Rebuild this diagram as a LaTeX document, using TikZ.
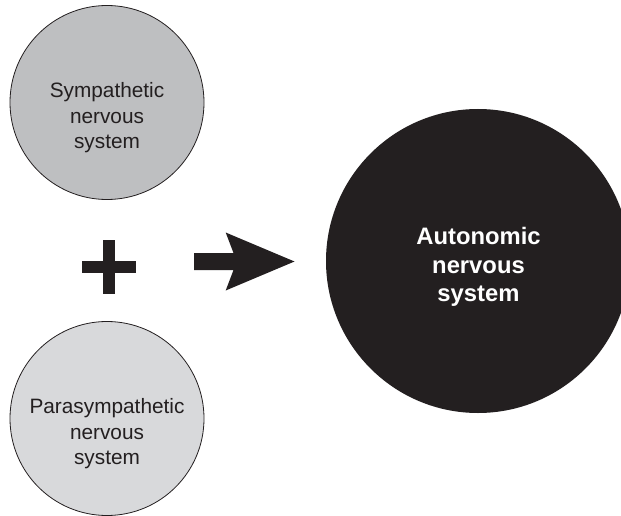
\documentclass[tikz,border=0pt]{standalone}
\usepackage{fontspec}
\setmainfont{Liberation Sans}
\definecolor{ink}{HTML}{231F20}
\definecolor{sympfill}{HTML}{BEBFC1}
\definecolor{parafill}{HTML}{D8D9DB}
\begin{document}
\begin{tikzpicture}[x=1pt,y=-1pt,
  smallcircle/.style={circle, draw=ink, line width=0.8pt, minimum size=194pt, inner sep=0pt},
  bigcircle/.style={circle, fill=ink, minimum size=304pt, inner sep=0pt},
  smalltext/.style={align=center, text=ink, inner sep=0pt,
    font=\fontsize{20.8}{25.5}\selectfont},
  bigtext/.style={align=center, text=white, inner sep=0pt,
    font=\fontsize{23.8}{28.5}\selectfont\bfseries},
  glyph/.style={fill=ink, draw=none}]
\useasboundingbox (0,0) rectangle (621,516);
\clip (0,0) rectangle (621,516);

% the two divisions and the whole
\node[smallcircle, fill=sympfill] (symp) at (107,102.5) {};
\node[smallcircle, fill=parafill] (para) at (107,418.5) {};
\node[bigcircle] (ans) at (478,261) {};

% labels
\node[smalltext] (symplabel) at (107,118) {Sympathetic\\nervous\\system};
\node[smalltext] (paralabel) at (107,434) {Parasympathetic\\nervous\\system};
\node[bigtext] (anslabel) at (478.5,267) {Autonomic\\nervous\\system};

% plus sign
\coordinate (plus) at (109.2,266.5);
\fill[glyph] ([xshift=-27pt,yshift=-6pt]plus) rectangle ([xshift=27pt,yshift=6pt]plus);
\fill[glyph] ([xshift=-6pt,yshift=-27pt]plus) rectangle ([xshift=6pt,yshift=27pt]plus);

% block arrow
\fill[glyph] (194,253) -- (233.5,253) -- (225.7,232.5) -- (294.5,261.5)
  -- (225.7,290.5) -- (233.5,270) -- (194,270) -- cycle;
\end{tikzpicture}
\end{document}
